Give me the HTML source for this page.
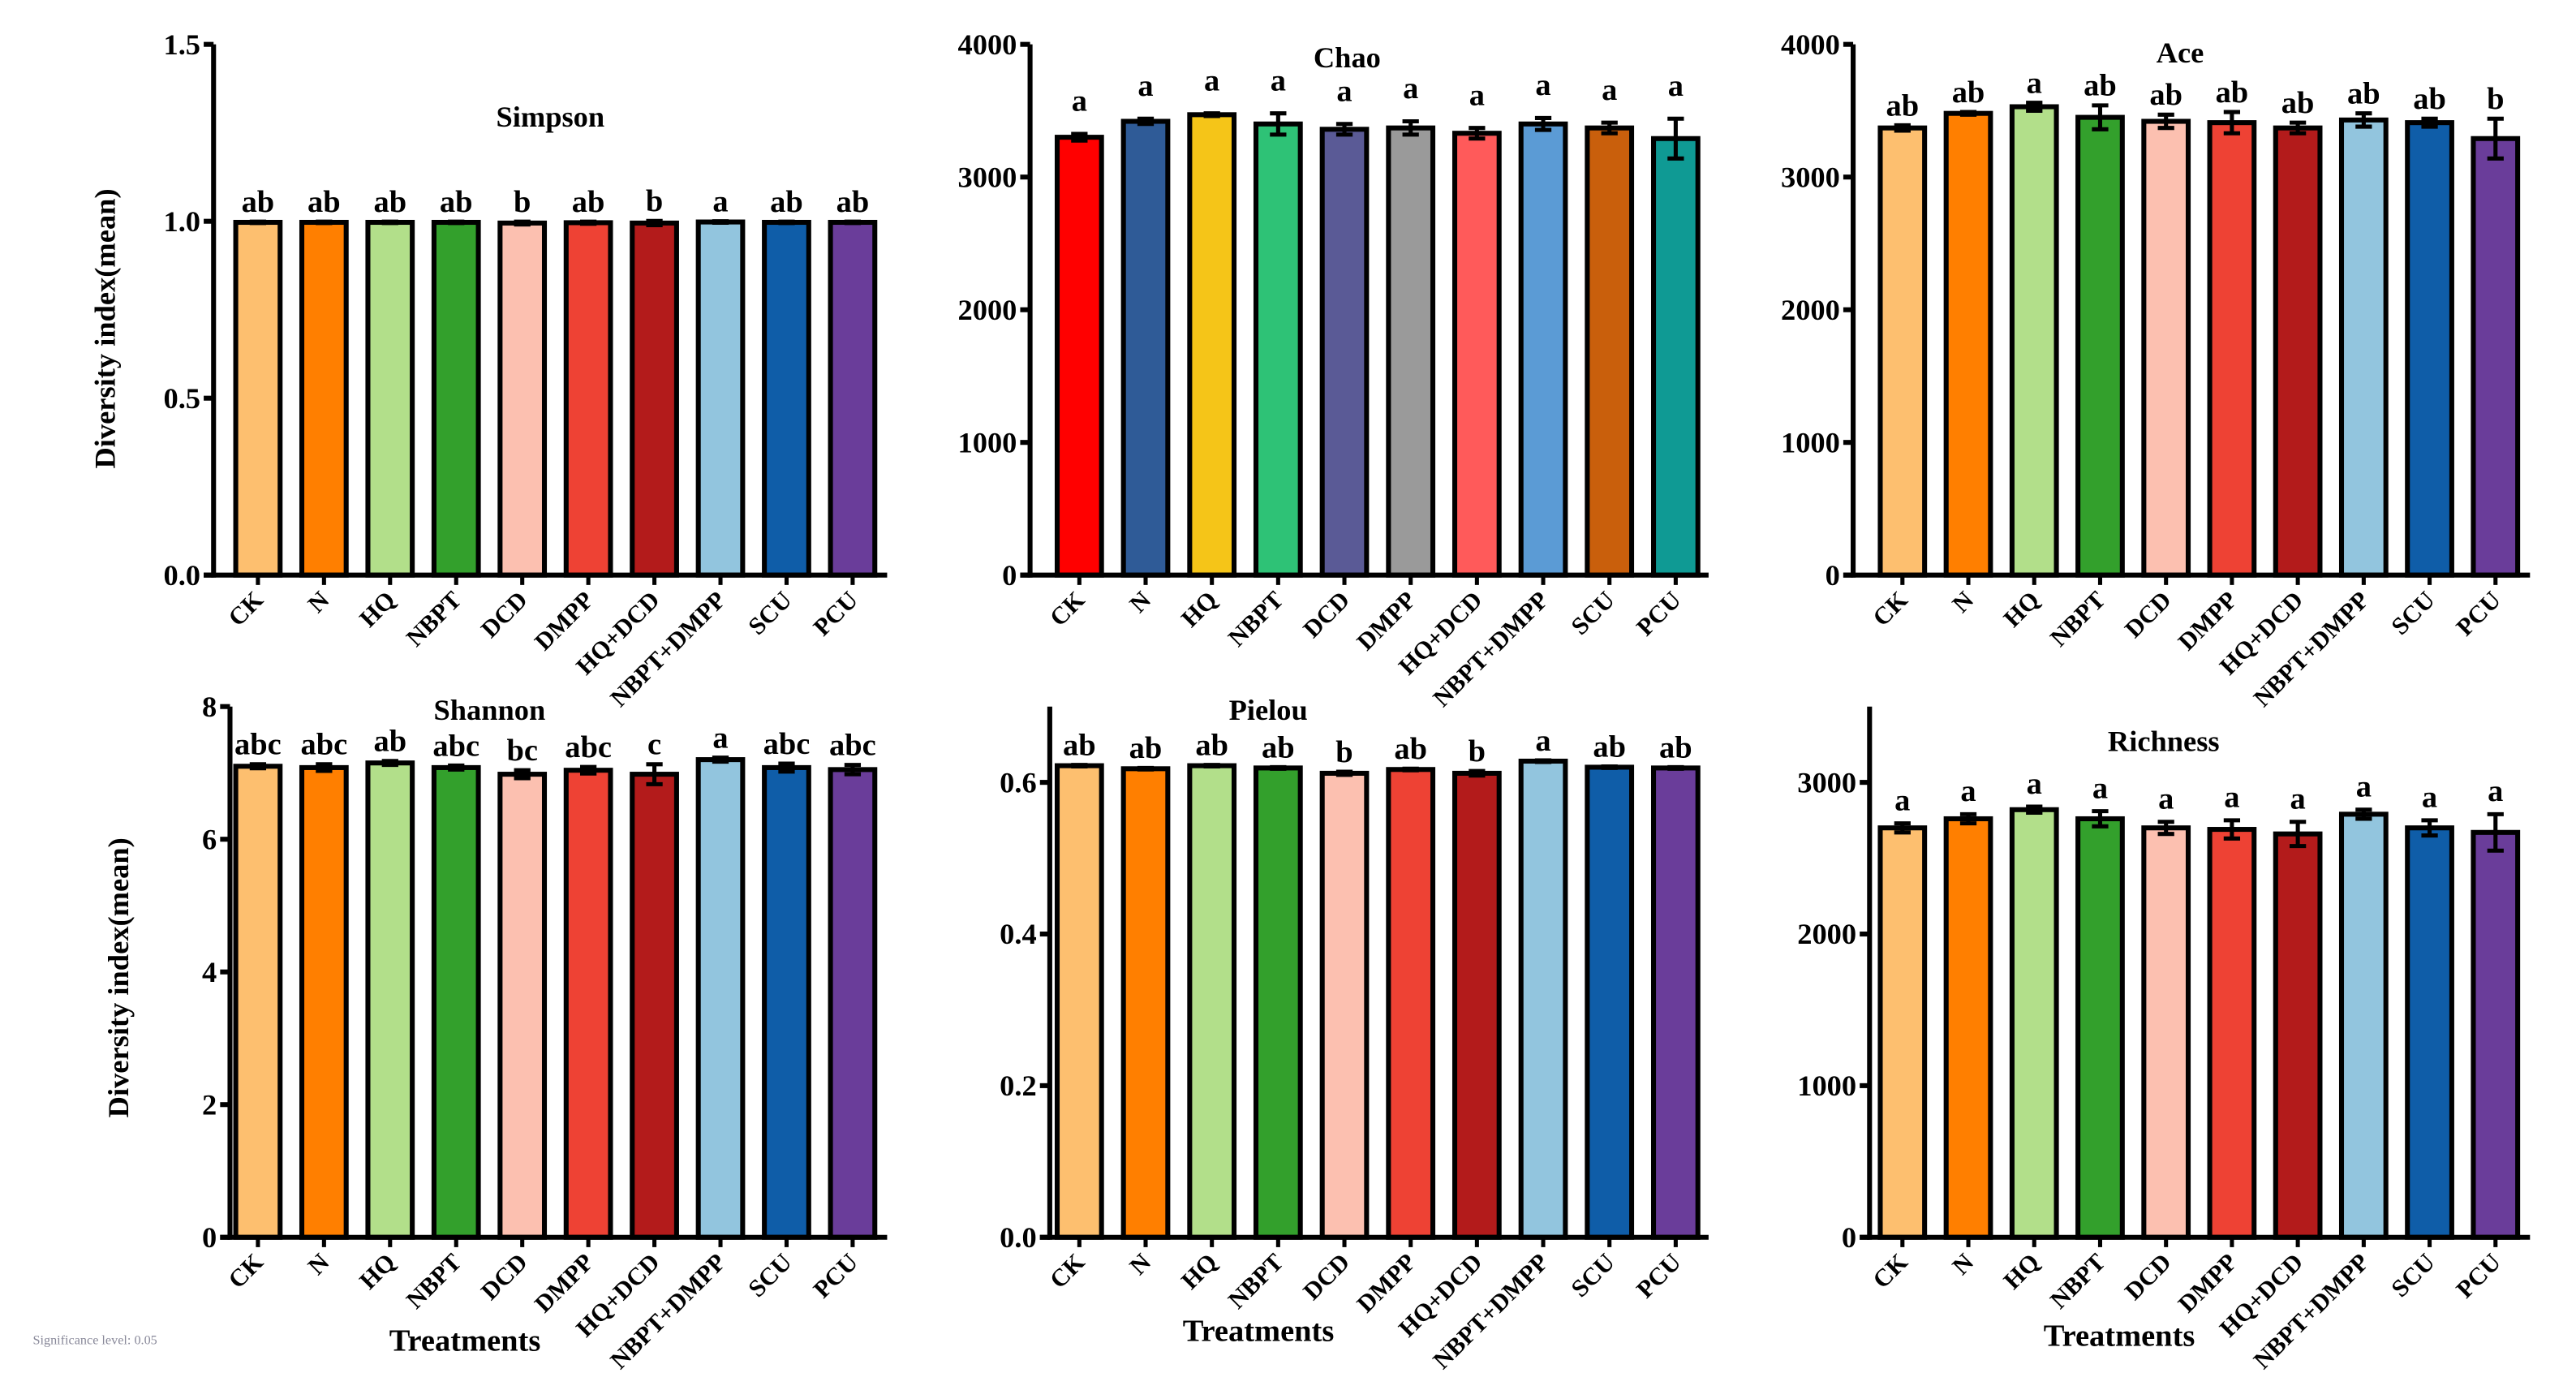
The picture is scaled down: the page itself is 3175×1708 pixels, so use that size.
<!DOCTYPE html>
<html><head><meta charset="utf-8"><style>
html,body{margin:0;padding:0;background:#fff;}
svg{display:block;font-family:"Liberation Serif",serif;font-weight:bold;}
</style></head><body>
<svg id="fig" width="3175" height="1708" viewBox="0 0 1568 843.5" preserveAspectRatio="none" xmlns="http://www.w3.org/2000/svg">
<rect x="0" y="0" width="1568" height="843.5" fill="#fff"/>
<text x="20" y="818" font-size="8" fill="#889" font-weight="normal">Significance level: 0.05</text>
</svg>
<script>
const categories=["CK","N","HQ","NBPT","DCD","DMPP","HQ+DCD","NBPT+DMPP","SCU","PCU"];
const simpsonValues=[0.997,0.997,0.997,0.997,0.995,0.996,0.995,0.998,0.997,0.997];
const simpsonErr=[0.002,0.002,0.002,0.002,0.004,0.003,0.006,0.002,0.002,0.002];
const simpsonLetters=["ab","ab","ab","ab","b","ab","b","a","ab","ab"];
const chaoValues=[3300,3420,3470,3400,3360,3370,3330,3400,3370,3290];
const chaoErr=[25,20,10,80,40,50,40,45,40,150];
const chaoLetters=["a","a","a","a","a","a","a","a","a","a"];
const aceValues=[3370,3480,3530,3450,3420,3410,3370,3430,3410,3290];
const aceErr=[20,10,30,90,50,80,40,50,30,150];
const aceLetters=["ab","ab","a","ab","ab","ab","ab","ab","ab","b"];
const shannonValues=[7.1,7.08,7.15,7.08,6.98,7.04,6.98,7.2,7.08,7.05];
const shannonErr=[0.03,0.05,0.03,0.03,0.06,0.05,0.15,0.03,0.06,0.07];
const shannonLetters=["abc","abc","ab","abc","bc","abc","c","a","abc","abc"];
const pielouValues=[0.622,0.618,0.622,0.619,0.612,0.617,0.612,0.628,0.62,0.619];
const pielouErr=[0.001,0.001,0.001,0.001,0.002,0.001,0.003,0.001,0.001,0.001];
const pielouLetters=["ab","ab","ab","ab","b","ab","b","a","ab","ab"];
const richnessValues=[2700,2760,2820,2760,2700,2690,2660,2790,2700,2670];
const richnessErr=[30,30,20,50,40,60,80,30,50,120];
const richnessLetters=["a","a","a","a","a","a","a","a","a","a"];
const simpsonTicks=["0.0","0.5","1.0","1.5"];
const chaoTicks=["0","1000","2000","3000","4000"];
const shannonTicks=["0","2","4","6","8"];
const pielouTicks=["0.0","0.2","0.4","0.6"];
const richnessTicks=["0","1000","2000","3000"];

const palA=["#FDBF6F","#FF7F00","#B2DF8A","#33A02C","#FCC0B0","#EE4234","#B31B1B","#92C5DE","#0F5DA8","#6A3D9A"];
const palB=["#FF0000","#2F5B97","#F5C518","#2EC276","#5A5A96","#9A9A9A","#FF5A5A","#5B9BD5","#C95F0C","#0F9A94"];
const NS="http://www.w3.org/2000/svg";
const svg=document.getElementById('fig');
function mk(tag,attrs,parent){const e=document.createElementNS(NS,tag);for(const k in attrs)e.setAttribute(k,attrs[k]);(parent||svg).appendChild(e);return e;}

function panel(o){
  const g=mk('g',{});
  
  
  const yS=v=>o.y0-(v-o.min)/(o.max-o.min)*(o.y0-o.yTop);
  const xS=i=>o.c0+i*(o.c1-o.c0)/9;
  const bw=27;
  // bars
  o.values.forEach((v,i)=>{
    const r=mk('rect',{x:xS(i)-bw/2,y:yS(v),width:bw,height:o.y0-yS(v),fill:o.pal[i],stroke:'#000','stroke-width':3},g);
    
    
    const e=o.err[i],x=xS(i);
    const eb=mk('path',{d:`M${x},${yS(v+e)}V${yS(v-e)}M${x-5},${yS(v+e)}H${x+5}M${x-5},${yS(v-e)}H${x+5}`,stroke:'#000','stroke-width':2.5,fill:'none'},g);
    
    
    const t=mk('text',{x:x,y:yS(v+e)-o.lblOff,'text-anchor':'middle','font-size':19},g);
    t.textContent=o.letters[i];
    
    
    const tk=mk('line',{x1:x,x2:x,y1:o.y0,y2:o.y0+6,stroke:'#000','stroke-width':2.5},g);
    const xl=mk('text',{x:x+4,y:o.y0+16,'text-anchor':'end','font-size':15,transform:`rotate(-45 ${x+4} ${o.y0+16})`},g);
    xl.textContent=categories[i];
    
    
  });
  // axes
  mk('line',{x1:o.ax,x2:o.ax,y1:o.yTop,y2:o.y0+1.5,stroke:'#000','stroke-width':3},g);
  mk('line',{x1:o.ax-6,x2:o.xr,y1:o.y0,y2:o.y0,stroke:'#000','stroke-width':3},g);
  o.ticks.forEach(t=>{
    const y=yS(parseFloat(t));
    mk('line',{x1:o.ax-6,x2:o.ax,y1:y,y2:y,stroke:'#000','stroke-width':3},g);
    const tl=mk('text',{x:o.ax-8,y:y+6,'text-anchor':'end','font-size':18},g);
    tl.textContent=t;
    
    
  });
  const ti=mk('text',{x:o.tx,y:o.ty,'text-anchor':'middle','font-size':18},g);
  ti.textContent=o.title;
  
  
}
panel({name:'simpson',title:'Simpson',values:simpsonValues,err:simpsonErr,letters:simpsonLetters,ticks:simpsonTicks,min:0,max:1.5,y0:350,yTop:27,ax:130,xr:540,c0:157,c1:519,pal:palA,tx:335,ty:77,lblOff:6});
panel({name:'chao',title:'Chao',values:chaoValues,err:chaoErr,letters:chaoLetters,ticks:chaoTicks,min:0,max:4000,y0:350,yTop:27,ax:627,xr:1040,c0:657,c1:1020,pal:palB,tx:820,ty:41,lblOff:14});
panel({name:'ace',title:'Ace',values:aceValues,err:aceErr,letters:aceLetters,ticks:chaoTicks,min:0,max:4000,y0:350,yTop:27,ax:1128,xr:1540,c0:1158,c1:1519,pal:palA,tx:1327,ty:38,lblOff:6});
panel({name:'shannon',title:'Shannon',values:shannonValues,err:shannonErr,letters:shannonLetters,ticks:shannonTicks,min:0,max:8,y0:753,yTop:430,ax:140,xr:540,c0:157,c1:519,pal:palA,tx:298,ty:438,lblOff:6});
panel({name:'pielou',title:'Pielou',values:pielouValues,err:pielouErr,letters:pielouLetters,ticks:pielouTicks,min:0,max:0.7,y0:753,yTop:430,ax:639,xr:1040,c0:657,c1:1020,pal:palA,tx:772,ty:438,lblOff:6});
panel({name:'richness',title:'Richness',values:richnessValues,err:richnessErr,letters:richnessLetters,ticks:richnessTicks,min:0,max:3500,y0:753,yTop:430,ax:1138,xr:1540,c0:1158,c1:1519,pal:palA,tx:1317,ty:457,lblOff:8});

function label(txt,x,y,rot,name,size){
  const t=mk('text',{x:x,y:y,'text-anchor':'middle','font-size':size,transform:rot?`rotate(-90 ${x} ${y})`:''});
  t.textContent=txt;
  
  
}
label('Diversity index(mean)',70,200,true,'y-axis-title',18);
label('Diversity index(mean)',78,595,true,'y-axis-title',18);
label('Treatments',283,822,false,'x-axis-title',19);
label('Treatments',766,816,false,'x-axis-title',19);
label('Treatments',1290,819,false,'x-axis-title',19);
</script>
</body></html>
